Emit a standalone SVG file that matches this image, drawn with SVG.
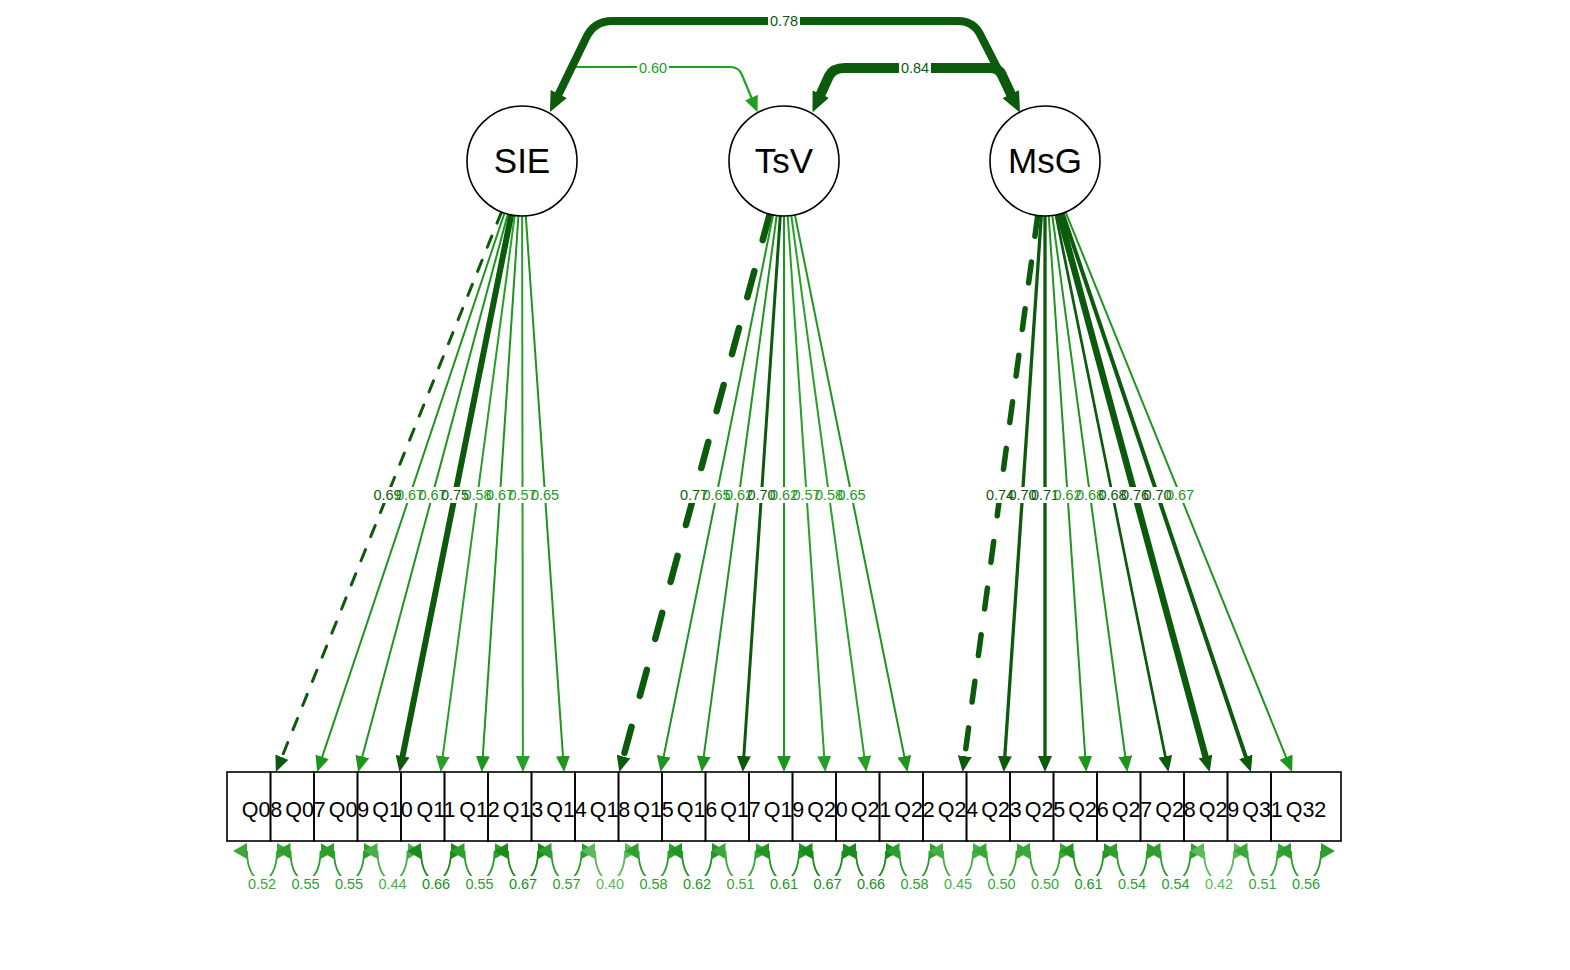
<svg xmlns="http://www.w3.org/2000/svg" width="1570" height="970" viewBox="0 0 1570 970">
<style>
text{font-family:"Liberation Sans",Arial,sans-serif;text-anchor:middle}
.lat circle{fill:#fff;stroke:#000;stroke-width:1.6}
.lat text{font-size:35px;fill:#000}
.man rect{fill:none;stroke:#000;stroke-width:1.6}
.man text{font-size:21.5px;fill:#000}
.e{fill:none}
.d{stroke:#0c5a0c}
.m{stroke:#1e961e}
.l{stroke:#28a028}
.dk{fill:#0c5a0c}.md{fill:#1e961e}.lt{fill:#28a028}
.lbl text{font-size:14.5px}
.bg rect{fill:#fff}
.r1{stroke:#5bbb5b}.r2{stroke:#48b048}.r3{stroke:#38a838}.r4{stroke:#2c9f2c}.r5{stroke:#229722}.r6{stroke:#1a8c1a}
.f1{fill:#5bbb5b}.f2{fill:#48b048}.f3{fill:#38a838}.f4{fill:#2c9f2c}.f5{fill:#229722}.f6{fill:#1a8c1a}
.res path{fill:none;stroke-width:1.8}
</style>
<defs>
<marker id="aD" markerUnits="userSpaceOnUse" markerWidth="16" markerHeight="14" refX="5" refY="7" orient="auto-start-reverse"><path d="M0,0 L16,7 L0,14 z" fill="#0c5a0c"/></marker>
<marker id="aM" markerUnits="userSpaceOnUse" markerWidth="16" markerHeight="14" refX="5" refY="7" orient="auto-start-reverse"><path d="M0,0 L16,7 L0,14 z" fill="#1e961e"/></marker>
<marker id="aL" markerUnits="userSpaceOnUse" markerWidth="16" markerHeight="14" refX="5" refY="7" orient="auto-start-reverse"><path d="M0,0 L16,7 L0,14 z" fill="#28a028"/></marker>
<marker id="aT" markerUnits="userSpaceOnUse" markerWidth="20" markerHeight="18" refX="6" refY="9" orient="auto-start-reverse"><path d="M0,0 L20,9 L0,18 z" fill="#0c5a0c"/></marker>
<marker id="aS" markerUnits="userSpaceOnUse" markerWidth="16" markerHeight="14" refX="5" refY="7" orient="auto-start-reverse"><path d="M0,0 L16,7 L0,14 z" fill="#22a022"/></marker>
<marker id="l1" markerUnits="userSpaceOnUse" markerWidth="15" markerHeight="16" refX="14" refY="8" orient="0"><path d="M14,0 L0,8 L14,16 z" fill="#5bbb5b"/></marker>
<marker id="l2" markerUnits="userSpaceOnUse" markerWidth="15" markerHeight="16" refX="14" refY="8" orient="0"><path d="M14,0 L0,8 L14,16 z" fill="#48b048"/></marker>
<marker id="l3" markerUnits="userSpaceOnUse" markerWidth="15" markerHeight="16" refX="14" refY="8" orient="0"><path d="M14,0 L0,8 L14,16 z" fill="#38a838"/></marker>
<marker id="l4" markerUnits="userSpaceOnUse" markerWidth="15" markerHeight="16" refX="14" refY="8" orient="0"><path d="M14,0 L0,8 L14,16 z" fill="#2c9f2c"/></marker>
<marker id="l5" markerUnits="userSpaceOnUse" markerWidth="15" markerHeight="16" refX="14" refY="8" orient="0"><path d="M14,0 L0,8 L14,16 z" fill="#229722"/></marker>
<marker id="l6" markerUnits="userSpaceOnUse" markerWidth="15" markerHeight="16" refX="14" refY="8" orient="0"><path d="M14,0 L0,8 L14,16 z" fill="#1a8c1a"/></marker>
<marker id="g1" markerUnits="userSpaceOnUse" markerWidth="15" markerHeight="16" refX="0" refY="8" orient="0"><path d="M0,0 L14,8 L0,16 z" fill="#5bbb5b"/></marker>
<marker id="g2" markerUnits="userSpaceOnUse" markerWidth="15" markerHeight="16" refX="0" refY="8" orient="0"><path d="M0,0 L14,8 L0,16 z" fill="#48b048"/></marker>
<marker id="g3" markerUnits="userSpaceOnUse" markerWidth="15" markerHeight="16" refX="0" refY="8" orient="0"><path d="M0,0 L14,8 L0,16 z" fill="#38a838"/></marker>
<marker id="g4" markerUnits="userSpaceOnUse" markerWidth="15" markerHeight="16" refX="0" refY="8" orient="0"><path d="M0,0 L14,8 L0,16 z" fill="#2c9f2c"/></marker>
<marker id="g5" markerUnits="userSpaceOnUse" markerWidth="15" markerHeight="16" refX="0" refY="8" orient="0"><path d="M0,0 L14,8 L0,16 z" fill="#229722"/></marker>
<marker id="g6" markerUnits="userSpaceOnUse" markerWidth="15" markerHeight="16" refX="0" refY="8" orient="0"><path d="M0,0 L14,8 L0,16 z" fill="#1a8c1a"/></marker>
</defs>
<rect width="1570" height="970" fill="#fff"/>
<g id="connectors">
<g id="loadings" class="e">
<path class="d" stroke-width="3" stroke-dasharray="12 14" stroke-linecap="round" marker-end="url(#aD)" d="M501.5,212 L280,761.8"/>
<path class="m" stroke-width="2" marker-end="url(#aM)" d="M504.5,213.1 L320.6,761.6"/>
<path class="m" stroke-width="2" marker-end="url(#aM)" d="M507.8,214.1 L361,761.4"/>
<path class="d" stroke-width="6" marker-end="url(#aD)" d="M511.2,214.9 L401.6,761.2"/>
<path class="l" stroke-width="2" marker-end="url(#aL)" d="M514.7,215.5 L442.1,761.1"/>
<path class="m" stroke-width="2" marker-end="url(#aM)" d="M518.4,215.9 L482.5,761"/>
<path class="l" stroke-width="2" marker-end="url(#aL)" d="M522.1,216 L522.9,761"/>
<path class="m" stroke-width="2" marker-end="url(#aM)" d="M525.8,215.9 L563.3,761"/>
<path class="d" stroke-width="6.5" stroke-dasharray="27 32" stroke-linecap="round" marker-end="url(#aD)" d="M769.7,214.1 L622.2,761.4"/>
<path class="m" stroke-width="2" marker-end="url(#aM)" d="M773.1,214.9 L662.7,761.2"/>
<path class="m" stroke-width="2" marker-end="url(#aM)" d="M776.7,215.5 L703.1,761.1"/>
<path class="d" stroke-width="3" marker-end="url(#aD)" d="M780.3,215.9 L743.5,761"/>
<path class="m" stroke-width="2" marker-end="url(#aM)" d="M784,216 L784,761"/>
<path class="l" stroke-width="2" marker-end="url(#aL)" d="M787.7,215.9 L824.5,761"/>
<path class="l" stroke-width="2" marker-end="url(#aL)" d="M791.3,215.5 L864.9,761.1"/>
<path class="m" stroke-width="2" marker-end="url(#aM)" d="M794.9,214.9 L905.3,761.2"/>
<path class="d" stroke-width="5.5" stroke-dasharray="21 26" stroke-linecap="round" marker-end="url(#aD)" d="M1037.7,215.5 L964.1,761.1"/>
<path class="d" stroke-width="3.3" marker-end="url(#aD)" d="M1041.3,215.9 L1004.5,761"/>
<path class="d" stroke-width="3.3" marker-end="url(#aD)" d="M1045,216 L1045,761"/>
<path class="m" stroke-width="2" marker-end="url(#aM)" d="M1048.7,215.9 L1085.5,761"/>
<path class="m" stroke-width="2" marker-end="url(#aM)" d="M1052.3,215.5 L1125.9,761.1"/>
<path class="d" stroke-width="2.7" marker-end="url(#aD)" d="M1055.9,214.9 L1166.3,761.2"/>
<path class="d" stroke-width="6.5" marker-end="url(#aD)" d="M1059.3,214.1 L1206.8,761.4"/>
<path class="d" stroke-width="4" marker-end="url(#aD)" d="M1062.6,213.1 L1247.4,761.6"/>
<path class="m" stroke-width="2" marker-end="url(#aM)" d="M1065.6,212 L1288,761.8"/>
</g>
<g id="covariances" class="e">
<path stroke="#22a022" stroke-width="2.2" marker-start="url(#aS)" marker-end="url(#aS)" d="M556.1,99.4 L572,67 L730,67 Q739,67 742,75 L753.3,102.1"/>
<path stroke="#0c5a0c" stroke-width="10" marker-start="url(#aT)" marker-end="url(#aT)" d="M818.3,99.5 L829,76 Q833,68 845,68 L990,68 Q999,68 1002,75 L1013.5,99.6"/>
<path stroke="#0c5a0c" stroke-width="8" marker-start="url(#aT)" marker-end="url(#aT)" d="M556.1,99.4 L586,38 Q594,21 612,21 L958,21 Q974,21 981,36 L1013.5,99.6"/>
</g>
<g id="residuals" class="res">
<path class="r3" marker-start="url(#l3)" marker-end="url(#g3)" d="M247,851 C247,890 277,890 277,851"/>
<path class="r4" marker-start="url(#l4)" marker-end="url(#g4)" d="M290.5,851 C290.5,890 320.5,890 320.5,851"/>
<path class="r4" marker-start="url(#l4)" marker-end="url(#g4)" d="M334,851 C334,890 364,890 364,851"/>
<path class="r2" marker-start="url(#l2)" marker-end="url(#g2)" d="M377.5,851 C377.5,890 407.5,890 407.5,851"/>
<path class="r6" marker-start="url(#l6)" marker-end="url(#g6)" d="M421,851 C421,890 451,890 451,851"/>
<path class="r4" marker-start="url(#l4)" marker-end="url(#g4)" d="M464.5,851 C464.5,890 494.5,890 494.5,851"/>
<path class="r6" marker-start="url(#l6)" marker-end="url(#g6)" d="M508,851 C508,890 538,890 538,851"/>
<path class="r4" marker-start="url(#l4)" marker-end="url(#g4)" d="M551.5,851 C551.5,890 581.5,890 581.5,851"/>
<path class="r1" marker-start="url(#l1)" marker-end="url(#g1)" d="M595,851 C595,890 625,890 625,851"/>
<path class="r4" marker-start="url(#l4)" marker-end="url(#g4)" d="M638.5,851 C638.5,890 668.5,890 668.5,851"/>
<path class="r5" marker-start="url(#l5)" marker-end="url(#g5)" d="M682,851 C682,890 712,890 712,851"/>
<path class="r3" marker-start="url(#l3)" marker-end="url(#g3)" d="M725.5,851 C725.5,890 755.5,890 755.5,851"/>
<path class="r5" marker-start="url(#l5)" marker-end="url(#g5)" d="M769,851 C769,890 799,890 799,851"/>
<path class="r6" marker-start="url(#l6)" marker-end="url(#g6)" d="M812.5,851 C812.5,890 842.5,890 842.5,851"/>
<path class="r6" marker-start="url(#l6)" marker-end="url(#g6)" d="M856,851 C856,890 886,890 886,851"/>
<path class="r4" marker-start="url(#l4)" marker-end="url(#g4)" d="M899.5,851 C899.5,890 929.5,890 929.5,851"/>
<path class="r2" marker-start="url(#l2)" marker-end="url(#g2)" d="M943,851 C943,890 973,890 973,851"/>
<path class="r3" marker-start="url(#l3)" marker-end="url(#g3)" d="M986.5,851 C986.5,890 1016.5,890 1016.5,851"/>
<path class="r3" marker-start="url(#l3)" marker-end="url(#g3)" d="M1030,851 C1030,890 1060,890 1060,851"/>
<path class="r5" marker-start="url(#l5)" marker-end="url(#g5)" d="M1073.5,851 C1073.5,890 1103.5,890 1103.5,851"/>
<path class="r4" marker-start="url(#l4)" marker-end="url(#g4)" d="M1117,851 C1117,890 1147,890 1147,851"/>
<path class="r4" marker-start="url(#l4)" marker-end="url(#g4)" d="M1160.5,851 C1160.5,890 1190.5,890 1190.5,851"/>
<path class="r1" marker-start="url(#l1)" marker-end="url(#g1)" d="M1204,851 C1204,890 1234,890 1234,851"/>
<path class="r3" marker-start="url(#l3)" marker-end="url(#g3)" d="M1247.5,851 C1247.5,890 1277.5,890 1277.5,851"/>
<path class="r4" marker-start="url(#l4)" marker-end="url(#g4)" d="M1291,851 C1291,890 1321,890 1321,851"/>
</g>
<g id="labels" class="lbl">
<g class="bg">
<rect x="768" y="13" width="32" height="17"/><rect x="899" y="60" width="32" height="17"/><rect x="637" y="59" width="32" height="17"/>
<rect x="371.5" y="487" width="32" height="16"/><rect x="394" y="487" width="32" height="16"/><rect x="416.5" y="487" width="32" height="16"/><rect x="439" y="487" width="32" height="16"/><rect x="461.5" y="487" width="32" height="16"/><rect x="484" y="487" width="32" height="16"/><rect x="506.5" y="487" width="32" height="16"/><rect x="529" y="487" width="32" height="16"/>
<rect x="678" y="487" width="32" height="16"/><rect x="700.5" y="487" width="32" height="16"/><rect x="723" y="487" width="32" height="16"/><rect x="745.5" y="487" width="32" height="16"/><rect x="768" y="487" width="32" height="16"/><rect x="790.5" y="487" width="32" height="16"/><rect x="813" y="487" width="32" height="16"/><rect x="835.5" y="487" width="32" height="16"/>
<rect x="984" y="487" width="32" height="16"/><rect x="1006.5" y="487" width="32" height="16"/><rect x="1029" y="487" width="32" height="16"/><rect x="1051.5" y="487" width="32" height="16"/><rect x="1074" y="487" width="32" height="16"/><rect x="1096.5" y="487" width="32" height="16"/><rect x="1119" y="487" width="32" height="16"/><rect x="1141.5" y="487" width="32" height="16"/><rect x="1164" y="487" width="32" height="16"/>
<rect x="246" y="876" width="32" height="16"/><rect x="289.5" y="876" width="32" height="16"/><rect x="333" y="876" width="32" height="16"/><rect x="376.5" y="876" width="32" height="16"/><rect x="420" y="876" width="32" height="16"/><rect x="463.5" y="876" width="32" height="16"/><rect x="507" y="876" width="32" height="16"/><rect x="550.5" y="876" width="32" height="16"/><rect x="594" y="876" width="32" height="16"/><rect x="637.5" y="876" width="32" height="16"/><rect x="681" y="876" width="32" height="16"/><rect x="724.5" y="876" width="32" height="16"/><rect x="768" y="876" width="32" height="16"/><rect x="811.5" y="876" width="32" height="16"/><rect x="855" y="876" width="32" height="16"/><rect x="898.5" y="876" width="32" height="16"/><rect x="942" y="876" width="32" height="16"/><rect x="985.5" y="876" width="32" height="16"/><rect x="1029" y="876" width="32" height="16"/><rect x="1072.5" y="876" width="32" height="16"/><rect x="1116" y="876" width="32" height="16"/><rect x="1159.5" y="876" width="32" height="16"/><rect x="1203" y="876" width="32" height="16"/><rect x="1246.5" y="876" width="32" height="16"/><rect x="1290" y="876" width="32" height="16"/>
</g>
<text class="dk" x="784" y="26.2">0.78</text>
<text class="dk" x="915" y="73.2">0.84</text>
<text fill="#22a022" x="653" y="72.7">0.60</text>
<text class="dk" x="387.5" y="500.2">0.69</text>
<text class="md" x="410" y="500.2">0.67</text>
<text class="md" x="432.5" y="500.2">0.67</text>
<text class="dk" x="455" y="500.2">0.75</text>
<text class="lt" x="477.5" y="500.2">0.58</text>
<text class="md" x="500" y="500.2">0.67</text>
<text class="lt" x="522.5" y="500.2">0.57</text>
<text class="md" x="545" y="500.2">0.65</text>
<text class="dk" x="694" y="500.2">0.77</text>
<text class="md" x="716.5" y="500.2">0.65</text>
<text class="md" x="739" y="500.2">0.62</text>
<text class="dk" x="761.5" y="500.2">0.70</text>
<text class="md" x="784" y="500.2">0.62</text>
<text class="lt" x="806.5" y="500.2">0.57</text>
<text class="lt" x="829" y="500.2">0.58</text>
<text class="md" x="851.5" y="500.2">0.65</text>
<text class="dk" x="1000" y="500.2">0.74</text>
<text class="dk" x="1022.5" y="500.2">0.70</text>
<text class="dk" x="1045" y="500.2">0.71</text>
<text class="md" x="1067.5" y="500.2">0.62</text>
<text class="md" x="1090" y="500.2">0.68</text>
<text class="dk" x="1112.5" y="500.2">0.68</text>
<text class="dk" x="1135" y="500.2">0.76</text>
<text class="dk" x="1157.5" y="500.2">0.70</text>
<text class="md" x="1180" y="500.2">0.67</text>
<text class="f3" x="262" y="889">0.52</text>
<text class="f4" x="305.5" y="889">0.55</text>
<text class="f4" x="349" y="889">0.55</text>
<text class="f2" x="392.5" y="889">0.44</text>
<text class="f6" x="436" y="889">0.66</text>
<text class="f4" x="479.5" y="889">0.55</text>
<text class="f6" x="523" y="889">0.67</text>
<text class="f4" x="566.5" y="889">0.57</text>
<text class="f1" x="610" y="889">0.40</text>
<text class="f4" x="653.5" y="889">0.58</text>
<text class="f5" x="697" y="889">0.62</text>
<text class="f3" x="740.5" y="889">0.51</text>
<text class="f5" x="784" y="889">0.61</text>
<text class="f6" x="827.5" y="889">0.67</text>
<text class="f6" x="871" y="889">0.66</text>
<text class="f4" x="914.5" y="889">0.58</text>
<text class="f2" x="958" y="889">0.45</text>
<text class="f3" x="1001.5" y="889">0.50</text>
<text class="f3" x="1045" y="889">0.50</text>
<text class="f5" x="1088.5" y="889">0.61</text>
<text class="f4" x="1132" y="889">0.54</text>
<text class="f4" x="1175.5" y="889">0.54</text>
<text class="f1" x="1219" y="889">0.42</text>
<text class="f3" x="1262.5" y="889">0.51</text>
<text class="f4" x="1306" y="889">0.56</text>
</g>
</g>
<g id="SIE" class="lat"><circle cx="522" cy="161" r="55"/><text x="522" y="173">SIE</text></g>
<g id="TsV" class="lat"><circle cx="784" cy="161" r="55"/><text x="784" y="173">TsV</text></g>
<g id="MsG" class="lat"><circle cx="1045" cy="161" r="55"/><text x="1045" y="173">MsG</text></g>
<g id="Q08" class="man"><rect x="227" y="772" width="43.5" height="69"/><text x="262" y="817">Q08</text></g>
<g id="Q07" class="man"><rect x="270.5" y="772" width="43.5" height="69"/><text x="305.5" y="817">Q07</text></g>
<g id="Q09" class="man"><rect x="314" y="772" width="43.5" height="69"/><text x="349" y="817">Q09</text></g>
<g id="Q10" class="man"><rect x="357.5" y="772" width="43.5" height="69"/><text x="392.5" y="817">Q10</text></g>
<g id="Q11" class="man"><rect x="401" y="772" width="43.5" height="69"/><text x="436" y="817">Q11</text></g>
<g id="Q12" class="man"><rect x="444.5" y="772" width="43.5" height="69"/><text x="479.5" y="817">Q12</text></g>
<g id="Q13" class="man"><rect x="488" y="772" width="43.5" height="69"/><text x="523" y="817">Q13</text></g>
<g id="Q14" class="man"><rect x="531.5" y="772" width="43.5" height="69"/><text x="566.5" y="817">Q14</text></g>
<g id="Q18" class="man"><rect x="575" y="772" width="43.5" height="69"/><text x="610" y="817">Q18</text></g>
<g id="Q15" class="man"><rect x="618.5" y="772" width="43.5" height="69"/><text x="653.5" y="817">Q15</text></g>
<g id="Q16" class="man"><rect x="662" y="772" width="43.5" height="69"/><text x="697" y="817">Q16</text></g>
<g id="Q17" class="man"><rect x="705.5" y="772" width="43.5" height="69"/><text x="740.5" y="817">Q17</text></g>
<g id="Q19" class="man"><rect x="749" y="772" width="43.5" height="69"/><text x="784" y="817">Q19</text></g>
<g id="Q20" class="man"><rect x="792.5" y="772" width="43.5" height="69"/><text x="827.5" y="817">Q20</text></g>
<g id="Q21" class="man"><rect x="836" y="772" width="43.5" height="69"/><text x="871" y="817">Q21</text></g>
<g id="Q22" class="man"><rect x="879.5" y="772" width="43.5" height="69"/><text x="914.5" y="817">Q22</text></g>
<g id="Q24" class="man"><rect x="923" y="772" width="43.5" height="69"/><text x="958" y="817">Q24</text></g>
<g id="Q23" class="man"><rect x="966.5" y="772" width="43.5" height="69"/><text x="1001.5" y="817">Q23</text></g>
<g id="Q25" class="man"><rect x="1010" y="772" width="43.5" height="69"/><text x="1045" y="817">Q25</text></g>
<g id="Q26" class="man"><rect x="1053.5" y="772" width="43.5" height="69"/><text x="1088.5" y="817">Q26</text></g>
<g id="Q27" class="man"><rect x="1097" y="772" width="43.5" height="69"/><text x="1132" y="817">Q27</text></g>
<g id="Q28" class="man"><rect x="1140.5" y="772" width="43.5" height="69"/><text x="1175.5" y="817">Q28</text></g>
<g id="Q29" class="man"><rect x="1184" y="772" width="43.5" height="69"/><text x="1219" y="817">Q29</text></g>
<g id="Q31" class="man"><rect x="1227.5" y="772" width="43.5" height="69"/><text x="1262.5" y="817">Q31</text></g>
<g id="Q32" class="man"><rect x="1271" y="772" width="70" height="69"/><text x="1306" y="817">Q32</text></g>
</svg>
